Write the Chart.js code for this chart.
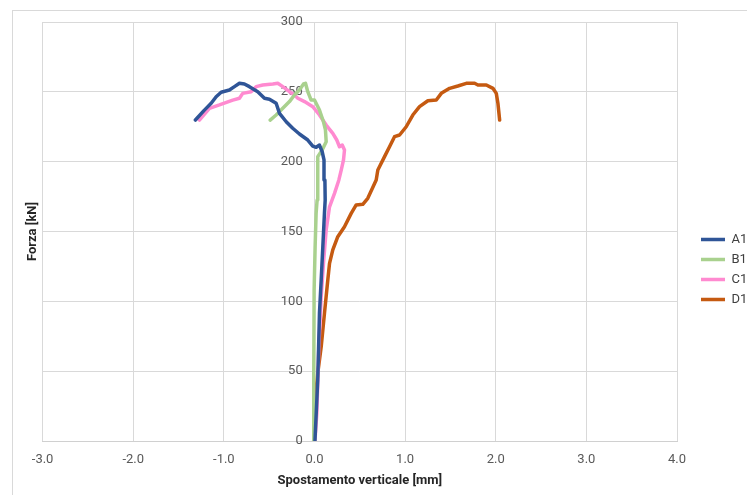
<!DOCTYPE html>
<html><head><meta charset="utf-8">
<script src="https://cdn.jsdelivr.net/npm/chart.js@4.4.1/dist/chart.umd.min.js"></script>
<style>html,body{margin:0;padding:0;background:#fff}#wrap{width:747px;height:495px;position:relative}</style>
</head><body><div id="wrap"><canvas id="c" width="747" height="495"></canvas></div>
<script>
const seriesNames = ['A1', 'B1', 'C1', 'D1'];
const xTickValues = [-3, -2, -1, 0, 1, 2, 3, 4];
const yTickValues = [0, 50, 100, 150, 200, 250, 300];

const a1X = [0.005,0.036,0.055,0.074,0.092,0.110,0.118,0.115,0.105,0.085,0.055,0.019,-0.019,-0.074,-0.166,-0.24,-0.312,-0.386,-0.423,-0.497,-0.552,-0.626,-0.718,-0.773,-0.828,-0.883,-0.939,-1.03,-1.085,-1.14,-1.215,-1.314];
const a1Y = [0,43.7,91.6,115.3,139.1,163.2,172.5,186.9,201.2,207.1,211.9,210.3,211.2,215.5,219.8,223.9,228.6,234.6,241.8,244.7,245.4,250.1,253.7,255.6,256.1,253.7,251.3,249.7,246.5,241.8,236.9,229.8];

const b1X = [-0.011,-0.008,-0.004,0.007,0.018,0.029,0.036,0.036,0.085,0.129,0.121,0.099,0.055,0,-0.037,-0.074,-0.099,-0.121,-0.166,-0.221,-0.276,-0.35,-0.423,-0.489];
const b1Y = [0,43.7,108,139,163,172.5,187,203.6,208.3,214.3,222.7,228.6,237,244.1,244.1,250.1,256.1,255.6,251.3,247.7,243,238.2,233.4,229.8];

const c1X = [0.005,0.026,0.048,0.074,0.099,0.129,0.166,0.221,0.269,0.295,0.32,0.331,0.306,0.276,0.246,0.202,0.129,0.055,-0.019,-0.11,-0.184,-0.221,-0.276,-0.35,-0.405,-0.46,-0.571,-0.644,-0.699,-0.792,-0.828,-0.902,-1.049,-1.159,-1.27];
const c1Y = [0,20,67.5,103.3,127.2,151,167.7,177.3,186.9,194,201.2,208.3,211.9,210.7,215.5,220.3,226.2,233.4,239.4,243,245.4,247.7,250.1,253.7,256.1,255.6,254.9,253.7,250.1,248.9,245.4,244.1,240.6,238.2,229.8];

const d1X = [-0.008,0.011,0.036,0.074,0.11,0.147,0.166,0.202,0.257,0.331,0.405,0.46,0.533,0.588,0.681,0.699,0.773,0.828,0.883,0.939,1.012,1.085,1.159,1.251,1.344,1.399,1.491,1.582,1.675,1.767,1.803,1.896,1.969,2.006,2.024,2.043];
const d1Y = [0,31.7,48.5,67.5,91.4,115.3,127.2,136.8,146.3,153.4,163,169,169.5,173.8,186.9,194,203.6,210.7,217.9,219.1,225,233.4,239.4,243.6,244.1,248.9,252.5,254.2,256.1,256.1,254.9,254.9,252.5,248.9,241.8,229.8];

const seriesX = [a1X, b1X, c1X, d1X];
const seriesY = [a1Y, b1Y, c1Y, d1Y];
const seriesColors = ['#2F5597', '#A9D18E', '#FF8AD0', '#C55A11'];

const FONT = "Roboto, 'Liberation Sans', sans-serif";

const datasets = seriesNames.map((name, i) => ({
  label: name,
  data: seriesX[i].map((x, j) => ({x: x, y: seriesY[i][j]})),
  borderColor: seriesColors[i],
  backgroundColor: seriesColors[i],
  borderWidth: 3.5,
  pointRadius: 0,
  showLine: true,
  tension: 0,
  borderJoinStyle: 'round',
  borderCapStyle: 'round',
  fill: false
}));

const frame = {
  id: 'frame',
  beforeDraw(chart) {
    const ctx = chart.ctx;
    ctx.save();
    ctx.fillStyle = '#fff';
    ctx.fillRect(0, 0, chart.width, chart.height);
    ctx.strokeStyle = '#d9d9d9';
    ctx.lineWidth = 1;
    ctx.strokeRect(12.5, 10.5, 900, 700);
    ctx.restore();
  },
  afterLayout(chart) {
    const lg = chart.legend;
    if (lg) {
      const dx = 701 - (lg.left + lg.options.labels.padding);
      lg.left += dx; lg.right += dx;
      const dy = 14;
      lg.top += dy; lg.bottom += dy;
    }
  }
};

new Chart(document.getElementById('c'), {
  type: 'scatter',
  data: { datasets },
  plugins: [frame],
  options: {
    responsive: false,
    animation: false,
    layout: { padding: { left: 19, right: 0, top: 22, bottom: 6 } },
    plugins: {
      legend: {
        position: 'right',
        labels: {
          usePointStyle: true,
          pointStyle: 'line',
          pointStyleWidth: 24,
          padding: 7,
          color: '#404040',
          font: { family: FONT, size: 13 }
        }
      },
      tooltip: { enabled: false }
    },
    scales: {
      x: {
        type: 'linear',
        min: -3, max: 4,
        afterBuildTicks(scale) { scale.ticks = xTickValues.map(v => ({value: v})); },
        afterFit(scale) { scale.paddingRight = 70; scale.height = 48; },
        ticks: {
          padding: 11,
          color: '#595959',
          font: { family: FONT, size: 13 },
          callback: v => Number(v).toFixed(1)
        },
        grid: { color: '#d9d9d9', drawTicks: false },
        border: { color: '#d0d0d0' },
        title: {
          display: true,
          text: 'Spostamento verticale [mm]',
          color: '#262626',
          font: { family: FONT, size: 13, weight: 'bold' },
          padding: { top: 2, bottom: 0 }
        }
      },
      y: {
        type: 'linear',
        position: { x: -0.13 },
        min: 0, max: 300,
        afterBuildTicks(scale) { scale.ticks = yTickValues.map(v => ({value: v})); },
        ticks: {
          padding: 0,
          color: '#595959',
          font: { family: FONT, size: 13 }
        },
        grid: { color: '#d9d9d9', drawTicks: false },
        border: { display: false }
      },
      yTitle: {
        type: 'linear',
        position: 'left',
        display: true,
        ticks: { display: false },
        grid: { display: false, drawTicks: false },
        border: { display: false },
        title: {
          display: true,
          text: 'Forza [kN]',
          color: '#262626',
          font: { family: FONT, size: 13, weight: 'bold' },
          padding: { top: 6, bottom: 2 }
        }
      }
    }
  }
});
</script>
</body></html>
